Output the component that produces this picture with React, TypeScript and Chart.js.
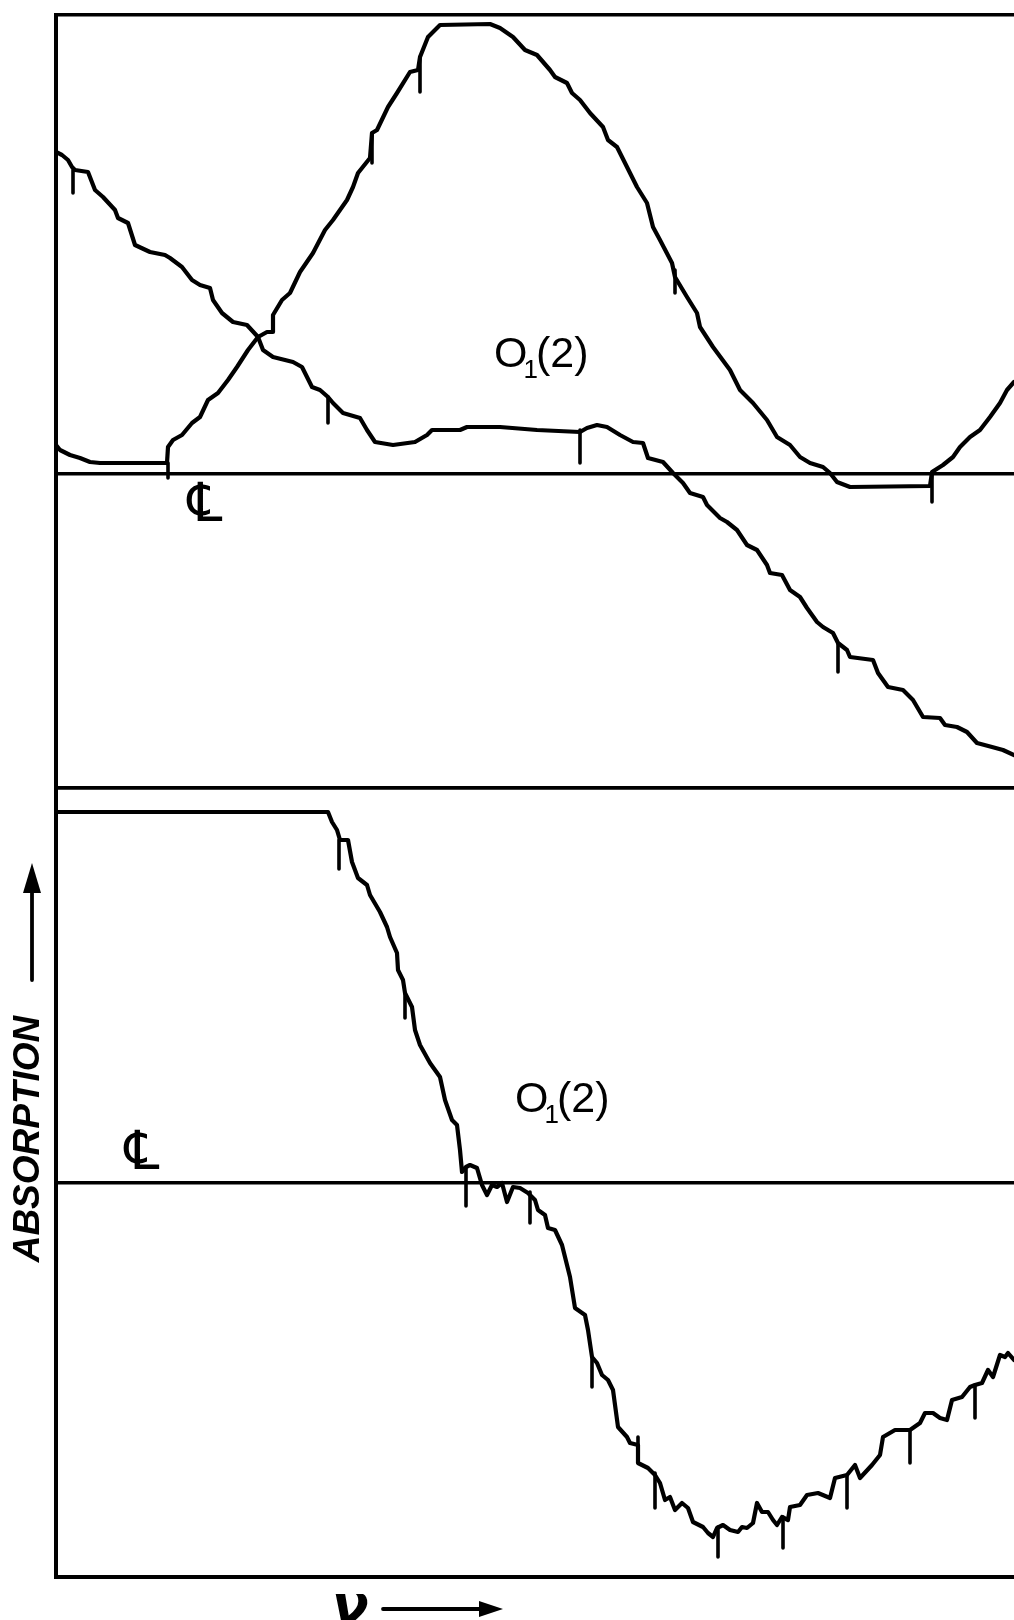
import React, { useEffect, useRef } from "react";
import { Chart, registerables } from "chart.js";

Chart.register(...registerables);

const W = 1014;
const H = 1620;

// Frequency axis (arbitrary units, 0 = left edge of frame)
const X_MIN = 0;
const X_MAX = 95.8;
// Absorption (arbitrary units, 0 = centre line) for each panel
const TOP_MIN = -31.4;
const TOP_MAX = 45.9;
const BOT_MIN = -39.4;
const BOT_MAX = 39.5;

// Upper panel, trace that peaks
const upperPeakX = [0, 0.4, 1.4, 2.4, 3.4, 4.4, 11.1, 11.2, 11.7, 12.6, 13.6, 14.4, 15.2, 16.2, 17.2, 18.1, 19.2, 20.2, 21.1, 21.7, 21.7, 22.6, 23.4, 24.4, 25.7, 26.9, 27.7, 29.1, 29.7, 30.2, 31.4, 31.6, 32.1, 33.2, 34.1, 35.4, 36.2, 36.4, 37.2, 38.4, 43.4, 44.4, 45.7, 46.9, 48.1, 49.4, 49.9, 51.1, 51.6, 52.4, 53.4, 54.7, 55.2, 56.1, 57.1, 58.1, 59.1, 59.7, 60.4, 61.6, 61.9, 63.1, 64.1, 64.4, 65.7, 67.4, 68.4, 69.7, 71.1, 72.1, 73.4, 74.4, 75.4, 76.7, 77.4, 78.1, 79.4, 87.4, 87.6, 88.7, 89.7, 90.4, 91.4, 92.4, 93.4, 94.4, 95.1, 95.8];
const upperPeakY = [2.9, 2.4, 1.9, 1.6, 1.2, 1.1, 1.1, 2.7, 3.4, 3.9, 5.1, 5.7, 7.4, 8.1, 9.4, 10.7, 12.4, 13.7, 14.2, 14.2, 15.9, 17.4, 18.1, 20.2, 22.1, 24.4, 25.4, 27.4, 28.7, 30.1, 31.6, 34.1, 34.4, 36.7, 38.1, 40.2, 40.4, 41.7, 43.7, 44.9, 45.0, 44.6, 43.7, 42.4, 41.9, 40.4, 39.7, 39.1, 38.1, 37.4, 36.1, 34.7, 33.4, 32.7, 30.7, 28.7, 27.1, 24.7, 23.4, 21.1, 19.7, 17.7, 16.1, 14.7, 12.7, 10.4, 8.4, 7.1, 5.4, 3.7, 2.9, 1.7, 1.1, 0.7, 0.1, -0.8, -1.3, -1.2, 0.2, 0.9, 1.7, 2.7, 3.7, 4.4, 5.7, 7.1, 8.4, 9.2];

// Upper panel, falling (dispersion-like) trace
const upperFallX = [0, 0.6, 1.2, 1.6, 1.9, 3.2, 3.9, 4.7, 5.9, 6.2, 7.2, 7.9, 9.4, 10.9, 11.4, 12.6, 13.6, 14.4, 15.4, 15.7, 16.6, 17.7, 19.1, 20.2, 20.7, 21.7, 23.7, 24.6, 25.6, 26.4, 27.2, 27.7, 28.7, 30.4, 31.1, 31.9, 33.7, 35.9, 37.1, 37.6, 40.4, 41.1, 44.4, 48.1, 52.4, 53.1, 54.1, 55.1, 56.4, 57.7, 58.7, 59.2, 60.7, 61.7, 62.7, 63.4, 64.7, 65.1, 66.4, 67.1, 68.1, 69.1, 70.1, 71.1, 71.4, 72.6, 73.4, 74.4, 75.1, 76.1, 76.7, 77.7, 78.2, 79.1, 79.4, 81.7, 82.2, 83.2, 84.7, 85.7, 86.7, 88.4, 88.9, 90.1, 91.1, 92.1, 93.6, 94.7, 95.8];
const upperFallY = [32.2, 31.9, 31.4, 30.7, 30.4, 30.2, 28.4, 27.7, 26.4, 25.6, 25.1, 22.9, 22.2, 21.9, 21.6, 20.7, 19.4, 18.9, 18.6, 17.4, 16.1, 15.2, 14.9, 13.7, 12.4, 11.7, 11.2, 10.7, 8.7, 8.4, 7.7, 7.1, 6.1, 5.6, 4.4, 3.2, 2.9, 3.2, 3.9, 4.4, 4.4, 4.7, 4.7, 4.4, 4.2, 4.6, 4.9, 4.7, 3.9, 3.2, 3.1, 1.6, 1.2, 0.1, -0.9, -1.9, -2.3, -3.1, -4.4, -4.8, -5.6, -7.1, -7.6, -9.1, -9.9, -10.1, -11.6, -12.3, -13.4, -14.8, -15.3, -15.9, -16.9, -17.6, -18.3, -18.6, -19.9, -21.3, -21.6, -22.6, -24.3, -24.4, -25.1, -25.3, -25.8, -26.9, -27.3, -27.6, -28.1];

// Lower panel trace
const lowerX = [0, 27.2, 27.6, 28.1, 28.4, 29.2, 29.6, 30.2, 31.1, 31.4, 32.4, 33.1, 33.4, 34.1, 34.2, 34.7, 34.9, 35.6, 35.9, 36.4, 37.4, 38.4, 38.9, 39.6, 40.1, 40.4, 40.6, 41.0, 41.4, 42.1, 42.6, 43.1, 43.6, 44.1, 44.6, 45.1, 45.7, 46.4, 47.2, 47.9, 48.2, 48.9, 49.2, 49.9, 50.6, 51.4, 51.9, 52.9, 53.2, 53.6, 54.1, 54.6, 55.2, 55.7, 56.2, 57.1, 57.4, 58.2, 58.2, 59.2, 59.9, 60.4, 60.9, 61.4, 61.9, 62.6, 63.2, 63.7, 64.7, 65.2, 65.7, 66.1, 66.7, 67.4, 68.2, 68.6, 69.1, 69.7, 70.1, 70.6, 71.2, 71.7, 72.1, 72.6, 73.2, 73.4, 74.4, 75.1, 76.2, 77.4, 77.9, 79.1, 79.9, 80.4, 81.6, 82.4, 82.7, 83.9, 85.4, 86.4, 86.9, 87.7, 88.4, 89.1, 89.6, 90.6, 91.4, 91.9, 92.6, 93.2, 93.7, 94.4, 94.9, 95.2, 95.8];
const lowerY = [37.1, 37.1, 36.1, 35.3, 34.3, 34.3, 32.1, 30.5, 29.8, 28.8, 27.1, 25.6, 24.6, 23.0, 21.3, 20.3, 19.0, 17.6, 15.3, 13.8, 12.0, 10.6, 8.3, 6.3, 5.8, 3.3, 1.1, 1.6, 1.8, 1.5, -0.2, -1.2, -0.2, -0.4, 0.0, -1.9, -0.4, -0.5, -1.0, -1.7, -2.7, -3.2, -4.5, -4.7, -6.2, -9.4, -12.5, -13.2, -14.7, -17.4, -18.0, -19.2, -19.7, -20.7, -24.4, -25.4, -26.0, -26.2, -28.0, -28.5, -29.2, -30.0, -31.7, -31.4, -32.7, -32.0, -32.5, -33.9, -34.4, -35.0, -35.4, -34.5, -34.2, -34.7, -34.9, -34.4, -34.5, -34.0, -32.0, -32.9, -32.9, -33.7, -34.2, -33.4, -33.7, -32.4, -32.2, -31.2, -31.0, -31.5, -29.5, -29.2, -28.2, -29.5, -28.2, -27.2, -25.4, -24.7, -24.7, -24.0, -23.0, -23.0, -23.5, -23.7, -21.7, -21.4, -20.4, -20.2, -20.0, -18.7, -19.4, -17.2, -17.4, -17.0, -17.7];

// Frequency marker ticks (upper panel)
const upperMarkX = [1.7, 11.2, 27.2, 31.6, 36.4, 52.4, 61.9, 78.2, 87.6];
const upperMarkTop = [30.4, 1.1, 7.7, 34.1, 41.7, 4.4, 20.4, -16.9, 0.1];
const upperMarkBottom = [28.1, -0.4, 5.1, 31.1, 38.2, 1.1, 18.1, -19.8, -2.8];

// Frequency marker ticks (lower panel)
const lowerMarkX = [28.3, 34.9, 41.0, 47.4, 53.6, 58.2, 59.9, 66.2, 72.7, 79.1, 85.4, 91.9];
const lowerMarkTop = [34.3, 19.0, 1.6, -0.9, -17.4, -25.4, -29.0, -34.4, -33.4, -29.2, -24.7, -20.2];
const lowerMarkBottom = [31.4, 16.5, -2.3, -4.0, -20.4, -26.2, -32.5, -37.4, -36.5, -32.5, -28.0, -23.5];

// Labels
const lineLabel = "O";
const lineLabelSub = "1";
const lineLabelTail = "(2)";
const upperLabelPos = [43.8, 10.7];
const lowerLabelPos = [45.9, 7.1];
const centreLineSymbol = "\u2104";
const upperCentrePos = [14.9, -3.3];
const lowerCentrePos = [8.6, 2.8];
const yTitle = "ABSORPTION";
const xTitle = "\u03BD";

const zip = (xs: number[], ys: number[]) => xs.map((x, i) => ({ x, y: ys[i] }));

const labelPlugin = {
  id: "figureLabels",
  afterDraw(chart: any) {
    const { ctx, chartArea, scales } = chart;
    const sx = scales.x;
    const yT = scales.yTop;
    const yB = scales.yBot;
    ctx.save();
    ctx.fillStyle = "#000";
    ctx.strokeStyle = "#000";

    const drawLineLabel = (pos: number[], ys: any) => {
      const px = sx.getPixelForValue(pos[0]);
      const py = ys.getPixelForValue(pos[1]);
      ctx.textAlign = "left";
      ctx.textBaseline = "alphabetic";
      ctx.font = '43px "Liberation Sans"';
      ctx.fillText(lineLabel, px, py);
      let w = ctx.measureText(lineLabel).width;
      ctx.font = '26px "Liberation Sans"';
      ctx.fillText(lineLabelSub, px + w - 4, py + 11);
      w += ctx.measureText(lineLabelSub).width - 6;
      ctx.font = '43px "Liberation Sans"';
      ctx.fillText(lineLabelTail, px + w, py);
    };
    drawLineLabel(upperLabelPos, yT);
    drawLineLabel(lowerLabelPos, yB);

    const drawCL = (pos: number[], ys: any) => {
      ctx.textAlign = "center";
      ctx.textBaseline = "middle";
      ctx.font = '54px "DejaVu Sans"';
      ctx.fillText(centreLineSymbol, sx.getPixelForValue(pos[0]), ys.getPixelForValue(pos[1]));
    };
    drawCL(upperCentrePos, yT);
    drawCL(lowerCentrePos, yB);

    // Y title, rotated, with upward arrow
    const tx = chartArea.left - 27;
    const ty = yB.getPixelForValue(4.4);
    ctx.save();
    ctx.translate(tx, ty);
    ctx.rotate(-Math.PI / 2);
    ctx.textAlign = "center";
    ctx.textBaseline = "middle";
    ctx.font = 'italic bold 37px "Liberation Sans"';
    ctx.fillText(yTitle, 0, 0);
    ctx.restore();
    const ax = chartArea.left - 24;
    const aBottom = yB.getPixelForValue(20.3);
    const aTip = yB.getPixelForValue(32.0);
    ctx.lineWidth = 3.8;
    ctx.lineCap = "round";
    ctx.beginPath();
    ctx.moveTo(ax, aBottom);
    ctx.lineTo(ax, aTip + 20);
    ctx.stroke();
    ctx.beginPath();
    ctx.moveTo(ax, aTip);
    ctx.lineTo(ax - 9, aTip + 30);
    ctx.lineTo(ax + 9, aTip + 30);
    ctx.closePath();
    ctx.fill();

    // X title with rightward arrow
    const nx = sx.getPixelForValue(27.6);
    const ny = chartArea.bottom + 46;
    ctx.textAlign = "left";
    ctx.textBaseline = "alphabetic";
    ctx.font = 'bold oblique 54px "DejaVu Sans"';
    ctx.fillText(xTitle, nx, ny);
    const arY = chartArea.bottom + 32;
    const arL = sx.getPixelForValue(32.7);
    const arR = sx.getPixelForValue(44.7);
    ctx.lineWidth = 3.8;
    ctx.beginPath();
    ctx.moveTo(arL, arY);
    ctx.lineTo(arR - 18, arY);
    ctx.stroke();
    ctx.beginPath();
    ctx.moveTo(arR, arY);
    ctx.lineTo(arR - 24, arY - 8);
    ctx.lineTo(arR - 24, arY + 8);
    ctx.closePath();
    ctx.fill();
    ctx.restore();
  },
};

export default function App() {
  const ref = useRef<HTMLCanvasElement>(null);
  useEffect(() => {
    document.body.style.margin = "0";
    const canvas = ref.current;
    if (!canvas) return;
    const lineStyle: any = {
      borderColor: "#000",
      backgroundColor: "#000",
      borderWidth: 4.2,
      pointRadius: 0,
      pointHoverRadius: 0,
      showLine: true,
      tension: 0,
      borderJoinStyle: "round",
      borderCapStyle: "round",
      fill: false,
    };
    const marks = (xs: number[], tops: number[], bots: number[], axis: string) =>
      xs.map((x, i) => ({
        ...lineStyle,
        borderWidth: 3.6,
        label: "mark",
        yAxisID: axis,
        data: [{ x, y: tops[i] }, { x, y: bots[i] }],
      }));
    const panelTicks = (s: any) => {
      s.ticks = [{ value: s.min }, { value: 0 }, { value: s.max }];
    };
    const chart = new Chart(canvas, {
      type: "scatter",
      data: {
        datasets: [
          { ...lineStyle, label: "O1(2) absorption", yAxisID: "yTop", data: zip(upperPeakX, upperPeakY) },
          { ...lineStyle, label: "O1(2) dispersion", yAxisID: "yTop", data: zip(upperFallX, upperFallY) },
          { ...lineStyle, label: "O1(2) derivative", yAxisID: "yBot", data: zip(lowerX, lowerY) },
          ...marks(upperMarkX, upperMarkTop, upperMarkBottom, "yTop"),
          ...marks(lowerMarkX, lowerMarkTop, lowerMarkBottom, "yBot"),
        ],
      },
      options: {
        responsive: false,
        maintainAspectRatio: false,
        devicePixelRatio: 1,
        animation: false,
        events: [],
        layout: { padding: { top: 15, left: 56, right: 0, bottom: 43 } },
        plugins: { legend: { display: false }, tooltip: { enabled: false }, title: { display: false } },
        scales: {
          x: {
            type: "linear",
            min: X_MIN,
            max: X_MAX,
            ticks: { display: false },
            grid: { display: false, drawTicks: false },
            border: { display: true, color: "#000", width: 4 },
          },
          yBot: {
            type: "linear",
            position: "left",
            stack: "panels",
            stackWeight: BOT_MAX - BOT_MIN,
            min: BOT_MIN,
            max: BOT_MAX,
            ticks: { display: false },
            grid: { drawTicks: false, color: "#000", lineWidth: 3.4 },
            border: { display: true, color: "#000", width: 4 },
            afterBuildTicks: panelTicks,
          },
          yTop: {
            type: "linear",
            position: "left",
            stack: "panels",
            stackWeight: TOP_MAX - TOP_MIN,
            min: TOP_MIN,
            max: TOP_MAX,
            ticks: { display: false },
            grid: { drawTicks: false, color: "#000", lineWidth: 3.4 },
            border: { display: true, color: "#000", width: 4 },
            afterBuildTicks: panelTicks,
          },
        },
      } as any,
      plugins: [labelPlugin],
    });
    return () => chart.destroy();
  }, []);
  return <canvas ref={ref} width={W} height={H} style={{ display: "block", width: W, height: H }} />;
}
